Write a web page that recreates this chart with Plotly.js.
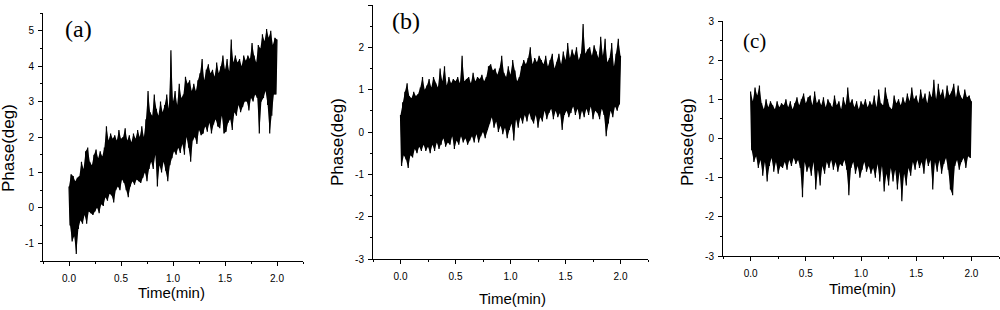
<!DOCTYPE html>
<html>
<head>
<meta charset="utf-8">
<script src="https://cdn.plot.ly/plotly-3.0.1.min.js"></script>
<style>html,body{margin:0;padding:0;background:#fff;}#chart{width:1000px;height:310px;}</style>
</head>
<body>
<div id="chart"></div>
<script>
// Sampling step (min) between successive readings
const STEP = 0.01;

// Panel (a): upper excursions at t = 0,0.02,...,2.00 and lower excursions at t = 0.01,0.03,...,1.99
const hiA = [0.6,0.95,0.9,0.75,0.85,0.9,1.3,1.1,1.6,1.7,1.3,1.2,1.5,1.65,1.4,1.6,1.45,1.7,2.3,1.9,
  2.1,1.95,2.05,1.9,2.2,1.95,2.0,2.25,1.9,2.05,1.85,2.1,1.95,2.2,2.0,2.3,2.0,2.5,3.3,2.7,
  2.6,3.2,2.8,2.6,3.0,2.7,2.9,3.2,2.8,4.45,3.0,3.3,2.9,3.5,3.1,3.2,3.7,3.5,3.6,3.3,
  3.5,3.3,3.6,3.8,4.2,3.6,3.9,4.05,3.8,3.9,3.7,4.1,3.8,4.0,4.3,3.9,4.2,3.85,4.75,4.1,
  4.3,4.1,4.2,4.0,4.3,4.15,4.3,4.2,4.65,4.3,4.1,4.6,4.5,4.9,4.7,5.05,4.8,5.0,4.6,4.8,4.75];
const loA = [-0.5,-0.95,-0.8,-1.3,-0.6,-0.35,-0.45,-0.2,-0.45,-0.1,-0.15,-0.2,-0.1,0.0,-0.15,0.1,0.05,0.3,0.2,0.4,
  0.35,0.15,0.5,0.6,0.5,0.8,0.7,0.5,0.3,0.6,0.75,0.65,0.8,0.75,0.7,0.85,1.0,0.75,1.1,1.3,
  1.1,1.5,0.6,1.2,1.0,1.3,1.05,0.75,1.2,1.4,1.6,1.5,1.7,1.55,1.8,1.5,2.0,1.7,1.3,1.9,
  2.0,1.8,2.2,2.05,2.1,2.3,2.15,2.4,2.1,2.35,2.5,2.3,2.25,2.6,2.1,2.15,2.4,2.5,2.2,2.7,
  2.6,2.9,2.7,2.85,3.0,3.0,2.75,3.1,3.0,3.2,3.1,2.1,3.0,3.1,3.3,2.9,2.1,2.6,3.2,3.2];

// Panel (b)
const hiB = [0.4,0.7,0.95,1.15,0.85,0.8,0.95,0.85,0.9,1.05,1.3,1.0,1.1,1.25,1.05,1.3,1.15,1.05,1.5,1.2,
  1.55,1.1,1.3,1.15,1.25,1.2,1.3,1.15,1.8,1.2,1.25,1.3,1.15,1.4,1.2,1.3,1.25,1.35,1.2,1.3,
  1.55,1.6,1.45,1.5,1.35,1.5,1.8,1.4,1.3,1.55,1.35,1.7,1.45,1.2,1.3,1.55,1.7,1.6,1.75,2.0,
  1.6,1.75,1.65,1.8,1.7,1.6,1.8,1.55,1.7,1.85,1.5,1.65,1.85,1.6,1.9,1.7,2.1,1.75,1.95,1.8,
  2.0,1.7,1.85,2.55,1.85,1.95,2.0,1.8,2.05,1.9,1.75,2.25,1.8,2.2,1.65,1.75,2.1,1.55,1.85,2.2,1.8];
const loB = [-0.8,-0.55,-0.65,-0.85,-0.55,-0.6,-0.4,-0.5,-0.35,-0.45,-0.3,-0.45,-0.35,-0.5,-0.3,-0.45,-0.25,-0.4,-0.3,-0.15,
  -0.35,-0.25,-0.3,-0.1,-0.4,-0.2,-0.3,-0.1,-0.25,-0.15,-0.3,-0.2,-0.1,-0.25,-0.05,-0.25,-0.1,0.0,-0.15,0.05,
  0.2,0.35,0.1,0.25,0.0,0.15,-0.05,0.1,-0.15,0.05,0.2,-0.2,0.3,0.1,0.35,0.2,0.4,0.25,0.45,0.3,
  0.2,0.4,0.1,0.35,0.25,0.5,0.3,0.45,0.55,0.3,0.5,0.35,0.45,0.05,0.4,0.5,0.35,0.45,0.6,0.4,
  0.55,0.3,0.5,0.35,0.55,0.4,0.6,0.3,0.5,0.45,0.3,0.55,0.4,-0.1,0.2,0.5,0.35,0.6,0.5,0.65];

// Panel (c)
const hiC = [1.2,0.95,1.3,1.1,1.35,0.9,0.75,1.0,0.8,0.95,0.85,0.75,0.95,0.8,0.9,0.85,1.0,0.8,0.95,0.75,
  0.9,1.05,0.85,1.0,1.15,0.9,1.05,1.1,0.85,1.2,0.9,1.0,0.85,1.05,0.8,1.0,0.9,0.8,1.1,0.85,
  0.95,0.75,1.05,0.85,1.3,0.9,1.0,0.8,0.95,0.75,0.95,0.85,1.0,0.8,0.95,0.85,1.1,0.8,1.25,0.9,
  0.85,1.3,1.0,0.8,0.75,1.1,0.9,1.0,0.85,1.05,0.9,1.15,0.95,1.3,1.0,1.1,0.9,1.25,1.0,1.15,
  0.9,1.2,1.05,1.5,1.0,1.4,1.1,1.25,1.0,1.35,1.1,1.2,1.4,1.05,1.35,1.1,1.0,1.25,1.05,1.1,0.95];
const loC = [-0.3,-0.6,-0.45,-0.75,-0.55,-0.95,-0.6,-1.1,-0.7,-0.5,-0.85,-0.6,-0.9,-0.7,-0.75,-0.6,-0.8,-0.55,-0.7,-0.5,
  -0.65,-0.55,-0.75,-1.5,-0.6,-0.85,-0.7,-0.95,-0.6,-1.3,-0.8,-1.2,-0.7,-0.9,-0.6,-0.75,-0.55,-0.8,-0.6,-0.85,
  -0.65,-0.7,-0.55,-0.8,-1.45,-0.75,-0.6,-0.9,-0.7,-1.0,-0.8,-0.6,-0.85,-0.7,-0.9,-0.75,-1.0,-0.65,-1.1,-0.7,
  -1.35,-0.9,-1.2,-0.75,-1.1,-0.8,-1.3,-0.85,-1.6,-0.9,-1.2,-0.75,-0.95,-0.6,-0.8,-0.55,-0.75,-0.6,-0.9,-0.5,
  -0.7,-0.55,-1.3,-0.6,-0.85,-0.55,-0.9,-0.65,-0.5,-0.8,-1.3,-1.45,-0.7,-0.55,-0.8,-0.6,-0.5,-0.75,-0.45,-0.5];

// Tick labels
const xTickVals = [0, 0.5, 1, 1.5, 2];
const xTickText = ['0.0', '0.5', '1.0', '1.5', '2.0'];
const yTickValsA = [-1, 0, 1, 2, 3, 4, 5];
const yTickTextA = ['-1', '0', '1', '2', '3', '4', '5'];
const yTickValsBC = [-3, -2, -1, 0, 1, 2, 3];
const yTickTextBC = ['-3', '-2', '-1', '0', '1', '2', '3'];

const panelLabels = ['(a)', '(b)', '(c)'];
const xTitle = 'Time(min)';
const yTitle = 'Phase(deg)';

function interleave(hi, lo) {
  const y = [];
  for (let i = 0; i < hi.length; i++) {
    y.push(hi[i]);
    if (i < lo.length) y.push(lo[i]);
  }
  return y;
}
// zig-zag signal line
function makeTrace(hi, lo, xa, ya) {
  const y = interleave(hi, lo);
  const x = y.map((_, k) => +(k * STEP).toFixed(4));
  return {x, y, xaxis: xa, yaxis: ya, type: 'scatter', mode: 'lines',
    line: {color: '#000', width: 1.2}, hoverinfo: 'skip'};
}
// dense core of the trace: the area swept between upper and lower excursions
function makeBand(hi, lo, xa, ya) {
  const xs = [], ys = [];
  hi.forEach((v, i) => { xs.push(+(2 * i * STEP).toFixed(4)); ys.push(v); });
  for (let i = lo.length - 1; i >= 0; i--) { xs.push(+((2 * i + 1) * STEP).toFixed(4)); ys.push(lo[i]); }
  return {x: xs, y: ys, xaxis: xa, yaxis: ya, type: 'scatter', mode: 'lines', fill: 'toself',
    fillcolor: '#000', line: {width: 0, color: '#000'}, hoverinfo: 'skip'};
}

const W = 1000, H = 310;
const px = v => v / W;
const py = v => 1 - v / H;

const tickFont = {family: 'Liberation Sans, Arial, sans-serif', size: 10, color: '#000'};
function xAxis(l, r, anchor) {
  return {domain: [px(l), px(r)], anchor, range: [-0.25, 2.25], showgrid: false, zeroline: false,
    showline: true, linecolor: '#000', linewidth: 1, ticks: 'outside', ticklen: 4, tickwidth: 1,
    tickcolor: '#000', tickmode: 'array', tickvals: xTickVals, ticktext: xTickText,
    tickfont: tickFont, ticklabelstandoff: 4,
    minor: {ticks: 'outside', ticklen: 2, tickwidth: 1, tickcolor: '#000', tickmode: 'linear', tick0: 0, dtick: 0.25, showgrid: false},
    fixedrange: true};
}
function yAxis(t, b, anchor, range, vals, text) {
  return {domain: [py(b), py(t)], anchor, range, showgrid: false, zeroline: false,
    showline: true, linecolor: '#000', linewidth: 1, ticks: 'outside', ticklen: 4, tickwidth: 1,
    tickcolor: '#000', tickmode: 'array', tickvals: vals, ticktext: text,
    tickfont: tickFont, ticklabelstandoff: 2,
    minor: {ticks: 'outside', ticklen: 2, tickwidth: 1, tickcolor: '#000', tickmode: 'linear', tick0: 0, dtick: 0.5, showgrid: false},
    fixedrange: true};
}

const data = [
  makeBand(hiA, loA, 'x', 'y'),
  makeTrace(hiA, loA, 'x', 'y'),
  makeBand(hiB, loB, 'x2', 'y2'),
  makeTrace(hiB, loB, 'x2', 'y2'),
  makeBand(hiC, loC, 'x3', 'y3'),
  makeTrace(hiC, loC, 'x3', 'y3')
];

const titleFont = {family: 'Liberation Sans, Arial, sans-serif', size: 15, color: '#000'};
const yTitleFont = {family: 'Liberation Sans, Arial, sans-serif', size: 17, color: '#000'};
const labelFont = {family: 'Liberation Serif, Times New Roman, serif', size: 24, color: '#000'};
function ann(text, x, y, font, angle) {
  return {text, xref: 'paper', yref: 'paper', x: px(x), y: py(y), xanchor: 'center', yanchor: 'middle',
    showarrow: false, font, textangle: angle || 0};
}

const layout = {
  width: W, height: H, margin: {l: 0, r: 0, t: 0, b: 0}, autosize: false,
  paper_bgcolor: '#fff', plot_bgcolor: 'rgba(0,0,0,0)', showlegend: false,
  xaxis: xAxis(43, 303, 'y'),
  yaxis: yAxis(13, 261, 'x', [-1.5, 5.5], yTickValsA, yTickTextA),
  xaxis2: xAxis(373, 648, 'y2'),
  yaxis2: yAxis(5, 259, 'x2', [-3, 3], yTickValsBC, yTickTextBC),
  xaxis3: xAxis(723, 999, 'y3'),
  yaxis3: yAxis(21, 256, 'x3', [-3, 3], yTickValsBC, yTickTextBC),
  annotations: [
    ann(panelLabels[0], 78, 29, labelFont),
    ann(panelLabels[1], 406, 21, labelFont),
    ann(panelLabels[2], 754, 41, Object.assign({}, labelFont, {size: 21})),
    ann(yTitle, 8, 148, yTitleFont, -90),
    ann(yTitle, 338, 142, yTitleFont, -90),
    ann(yTitle, 688, 142, yTitleFont, -90),
    ann(xTitle, 171, 292, titleFont),
    ann(xTitle, 512, 298, titleFont),
    ann(xTitle, 862, 288, titleFont)
  ]
};

Plotly.newPlot('chart', data, layout, {staticPlot: true, displayModeBar: false});
</script>
</body>
</html>
